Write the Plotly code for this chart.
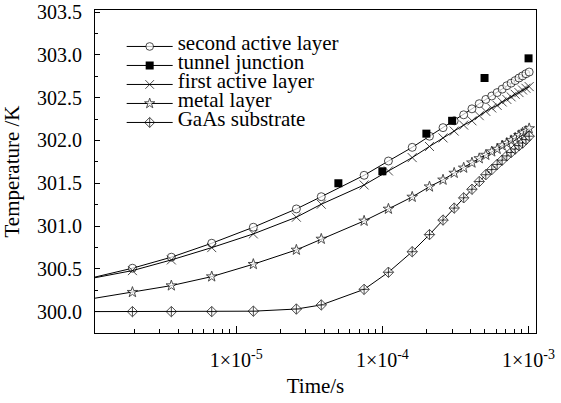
import plotly.graph_objects as go

# ---- data ----
time_s = [1.0e-6, 1.95e-6, 3.6e-6, 6.8e-6, 1.31e-5, 2.58e-5, 3.82e-5, 7.5e-5,
          1.1e-4, 1.6e-4, 2.1e-4, 2.6e-4, 3.1e-4, 3.6e-4, 4.1e-4, 4.6e-4, 5.1e-4,
          5.6e-4, 6.1e-4, 6.6e-4, 7.1e-4, 7.6e-4, 8.1e-4, 8.6e-4, 9.1e-4, 9.6e-4, 1.01e-3]

second_active = [300.39, 300.507, 300.636, 300.799, 300.986, 301.200, 301.343, 301.593,
                 301.76, 301.92, 302.05, 302.15, 302.23, 302.30, 302.37, 302.43, 302.48,
                 302.52, 302.56, 302.60, 302.64, 302.67, 302.70, 302.73, 302.755, 302.78, 302.80]

first_active = [300.385, 300.479, 300.604, 300.748, 300.908, 301.103, 301.255, 301.48,
                301.644, 301.80, 301.93, 302.03, 302.11, 302.18, 302.23, 302.29, 302.34,
                302.38, 302.41, 302.45, 302.48, 302.51, 302.54, 302.56, 302.59, 302.61, 302.63]

metal = [300.147, 300.227, 300.304, 300.409, 300.554, 300.721, 300.849, 301.06,
         301.20, 301.34, 301.46, 301.54, 301.62, 301.68, 301.74, 301.79, 301.83,
         301.87, 301.90, 301.94, 301.97, 302.00, 302.03, 302.06, 302.09, 302.11, 302.14]

gaas = [300.0, 300.0, 300.0, 300.0, 300.005, 300.03, 300.078, 300.26,
        300.46, 300.70, 300.90, 301.07, 301.21, 301.33, 301.43, 301.52, 301.60,
        301.66, 301.72, 301.77, 301.82, 301.86, 301.90, 301.94, 301.97, 302.01, 302.05]

tunnel_time = [5e-5, 1e-4, 2e-4, 3e-4, 5e-4, 1e-3]
tunnel = [301.50, 301.64, 302.08, 302.23, 302.73, 302.96]

x_tickvals = [1e-5, 1e-4, 1e-3]
x_ticktext = ["1\u00d710<sup>-5</sup>", "1\u00d710<sup>-4</sup>", "1\u00d710<sup>-3</sup>"]

names = ["second active layer", "tunnel junction", "first active layer",
         "metal layer", "GaAs substrate"]

FONT = "Liberation Serif"
LEG_FS = 21


def lab(s):
    return f'<span style="font-size:{LEG_FS}px">{s}</span>'


def sizes(n, s):
    return [0] + [s] * (n - 1)


n = len(time_s)
fig = go.Figure()

fig.add_trace(go.Scatter(
    x=time_s, y=second_active, mode="lines+markers", name=lab(names[0]),
    line=dict(color="black", width=1),
    marker=dict(symbol="circle", size=sizes(n, 8), color="white",
                line=dict(color="black", width=1))))

# tunnel junction: points only; a legend-only entry shows line + square
fig.add_trace(go.Scatter(
    x=[None], y=[None], mode="lines+markers", name=lab(names[1]),
    line=dict(color="black", width=1),
    marker=dict(symbol="square", size=8, color="black")))
fig.add_trace(go.Scatter(
    x=tunnel_time, y=tunnel, mode="markers", showlegend=False,
    marker=dict(symbol="square", size=8, color="black")))

fig.add_trace(go.Scatter(
    x=time_s, y=first_active, mode="lines+markers", name=lab(names[2]),
    line=dict(color="black", width=1),
    marker=dict(symbol="x-thin-open", size=sizes(n, 9), color="black",
                line=dict(color="black", width=1))))

fig.add_trace(go.Scatter(
    x=time_s, y=metal, mode="lines+markers", name=lab(names[3]),
    line=dict(color="black", width=1),
    marker=dict(symbol="star", size=sizes(n, 8), color="white",
                line=dict(color="black", width=1))))

fig.add_trace(go.Scatter(
    x=time_s, y=gaas, mode="lines+markers", name=lab(names[4]),
    line=dict(color="black", width=1),
    marker=dict(symbol="diamond-cross", size=sizes(n, 8), color="white",
                line=dict(color="black", width=1))))

minor_x = [k * 10 ** e for e in (-6, -5, -4) for k in range(2, 10)]

fig.update_layout(
    width=561, height=403,
    margin=dict(l=95, r=25, t=10, b=70),
    paper_bgcolor="white", plot_bgcolor="white",
    font=dict(family=FONT, size=20, color="black"),
    showlegend=True,
    legend=dict(x=0.0605, y=0.932, xanchor="left", yanchor="top",
                bgcolor="rgba(0,0,0,0)", font=dict(family=FONT, size=10, color="black"),
                itemwidth=46, tracegroupgap=0),
    xaxis=dict(type="log", range=[-5.966, -2.949], automargin=False,
               tickvals=x_tickvals, ticktext=x_ticktext,
               ticks="inside", ticklen=7, tickwidth=1, tickcolor="black",
               minor=dict(tickvals=minor_x, ticks="inside", ticklen=4,
                          tickcolor="black", showgrid=False),
               showline=True, linecolor="black", linewidth=1, mirror=True,
               showgrid=False, zeroline=False, ticklabelstandoff=9,
               ticklabeloverflow="allow",
               title=dict(text="Time/s", font=dict(size=21), standoff=8)),
    yaxis=dict(range=[299.75, 303.525], dtick=0.5, tick0=300, automargin=False,
               tickformat=".1f",
               ticks="inside", ticklen=5, tickwidth=1, tickcolor="black",
               minor=dict(dtick=0.25, ticks="inside", ticklen=3,
                          tickcolor="black", showgrid=False),
               showline=True, linecolor="black", linewidth=1, mirror=True,
               showgrid=False, zeroline=False, ticklabelstandoff=8,
               ticklabeloverflow="allow",
               title=dict(text="Temperature /K", font=dict(size=21), standoff=12)),
)

fig.write_html("out.html", config={"displayModeBar": False},
               post_script="document.body.style.margin='0';")
